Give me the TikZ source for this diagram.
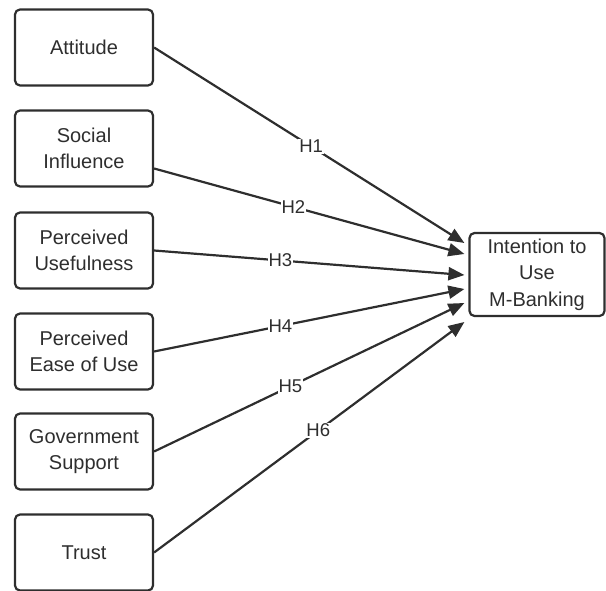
\documentclass[tikz,border=0pt]{standalone}
\usepackage{fontspec}
\setmainfont{Liberation Sans}
\usetikzlibrary{arrows.meta,calc}
\definecolor{ink}{HTML}{2E2E2E}
\tikzset{
  cbox/.style={draw=ink, line width=2.2bp, rounded corners=5bp, minimum width=138bp, minimum height=76bp,
    align=center, text=ink, font=\fontsize{20bp}{26.5bp}\selectfont, inner sep=2bp},
  conn/.style={draw=ink, line width=2.2bp, -{Triangle[length=16bp,width=13bp]}},
  hlab/.style={fill=white, text=ink, font=\fontsize{18.5bp}{20bp}\selectfont, inner sep=1bp}
}
\begin{document}
\begin{tikzpicture}[x=1bp,y=-1bp]
\useasboundingbox (0,0) rectangle (606,591);
\node[cbox] (att) at (84,47.5) {Attitude};
\node[cbox] (soc) at (84,148.5) {Social\\Influence};
\node[cbox] (pu) at (84,250.5) {Perceived\\Usefulness};
\node[cbox] (peou) at (84,351.5) {Perceived\\Ease of Use};
\node[cbox] (gov) at (84,451.5) {Government\\Support};
\node[cbox] (tru) at (84,552.5) {Trust};
\node[cbox, minimum width=135bp, minimum height=83bp] (iu) at (537,274.5) {Intention to\\Use\\M-Banking};
\coordinate (s2) at ($(soc.east)+(0,20)$);
\coordinate (t1) at ($(iu.west)+(-4,-31.5)$);
\coordinate (t2) at ($(iu.west)+(-4,-20.5)$);
\coordinate (t3) at ($(iu.west)+(-4,0.5)$);
\coordinate (t4) at ($(iu.west)+(-4,14.5)$);
\coordinate (t5) at ($(iu.west)+(-4,28.5)$);
\coordinate (t6) at ($(iu.west)+(-4,47.5)$);
\draw[conn] (att.east) -- node[hlab, pos=0.506] {H1} (t1);
\draw[conn] (s2) -- node[hlab, pos=0.449] {H2} (t2);
\draw[conn] (pu.east) -- node[hlab, pos=0.407] {H3} (t3);
\draw[conn] (peou.east) -- node[hlab, pos=0.407] {H4} (t4);
\draw[conn] (gov.east) -- node[hlab, pos=0.439] {H5} (t5);
\draw[conn] (tru.east) -- node[hlab, pos=0.529] {H6} (t6);
\end{tikzpicture}
\end{document}
